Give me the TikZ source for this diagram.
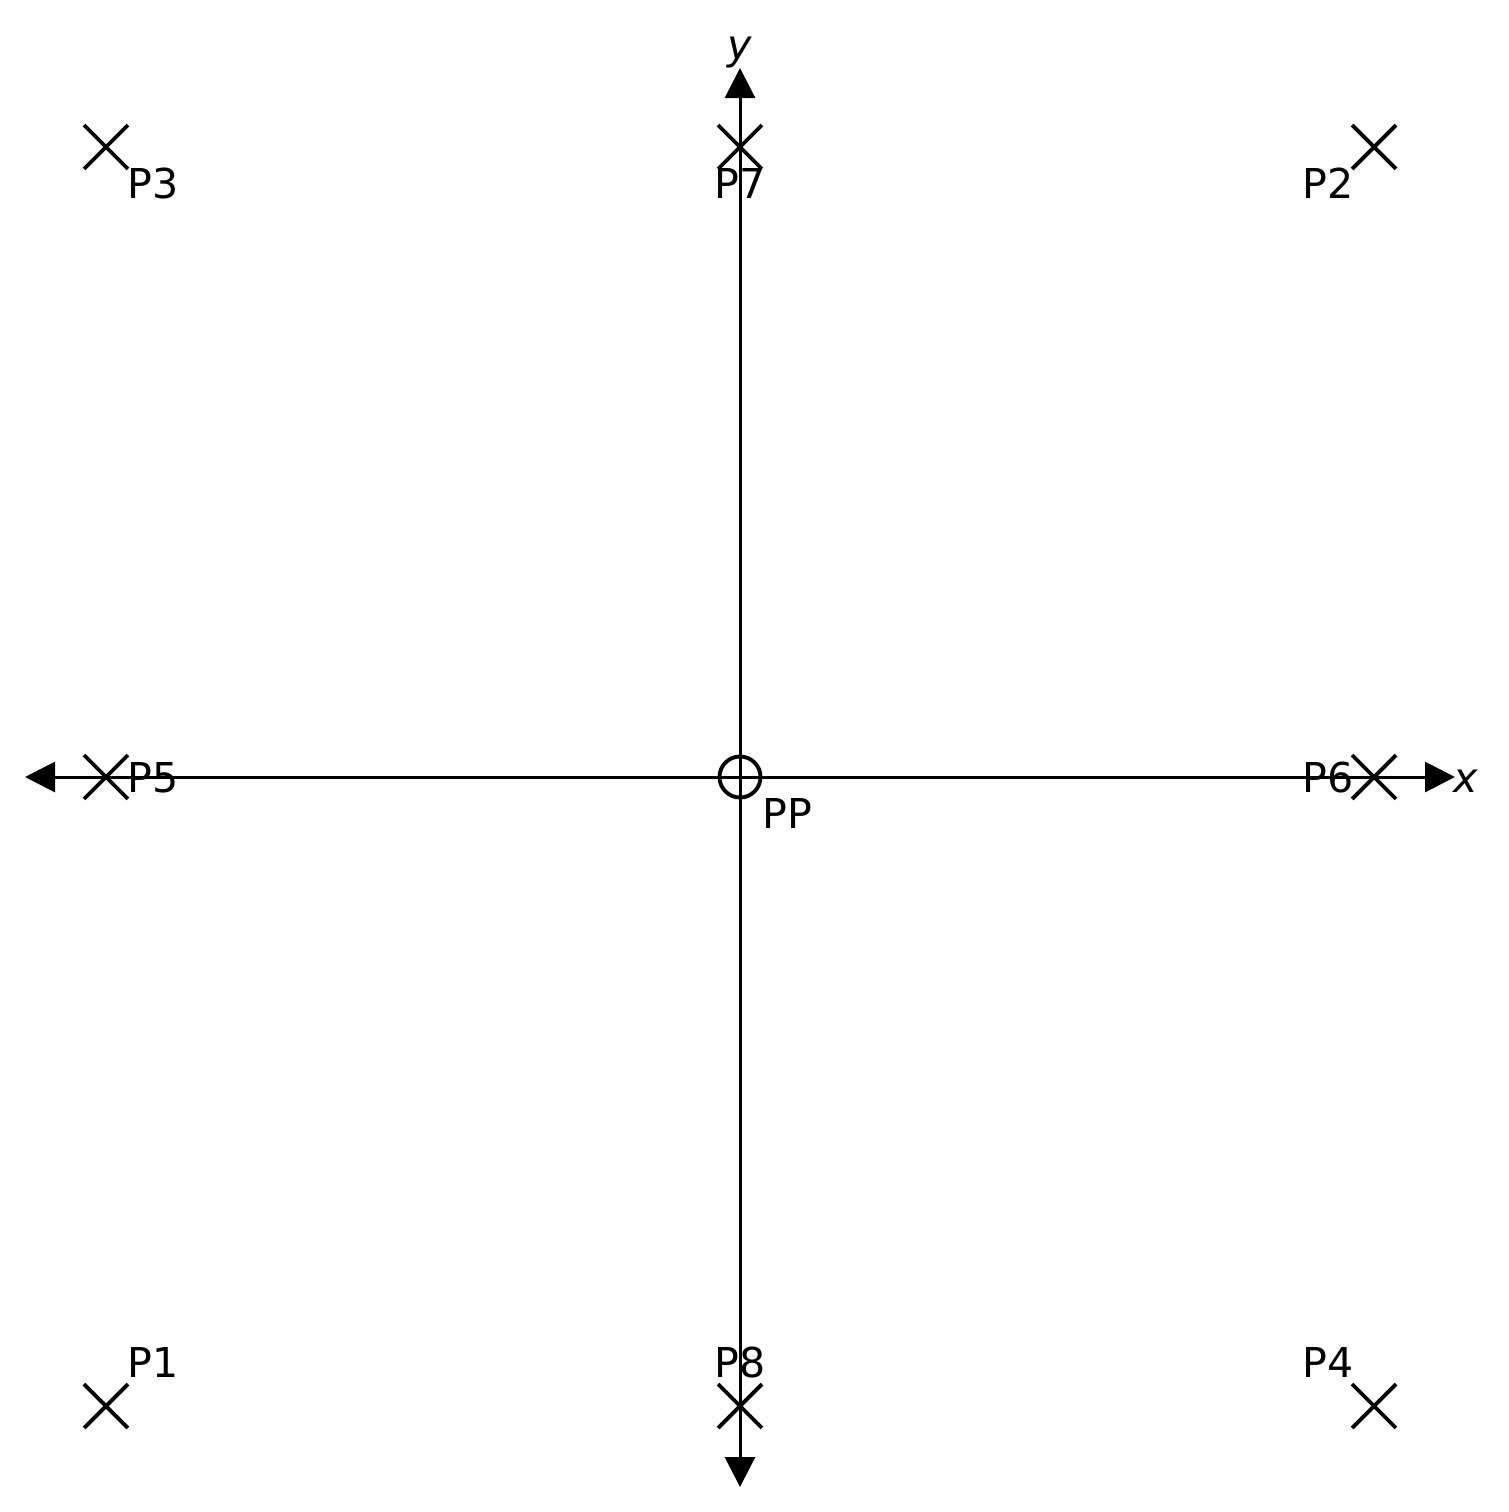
\documentclass[tikz,border=0pt]{standalone}
\usepackage{fontspec}
\setmainfont{DejaVu Sans}[ItalicFont={DejaVu Sans Oblique}]
\usetikzlibrary{arrows.meta,shapes.misc}

\begin{document}
\begin{tikzpicture}[x=.01cm,y=-.01cm,line width=.85pt,
  >={Triangle[length=.3cm,width=.3cm]},
  font=\fontsize{11.7}{14}\selectfont,
  cross/.style={cross out,draw,line width=1.1pt,minimum size=.4cm,inner sep=0pt},
  lab/.style={anchor=base west,inner sep=0pt}]
  \useasboundingbox (0,0) rectangle (1509,1512);
  % axes
  \coordinate (xl) at (25,777);
  \coordinate (xr) at (1455,777);
  \coordinate (yt) at (740,68);
  \coordinate (yb) at (740,1487);
  \draw[<->] (xl) -- (xr);
  \draw[<->] (yb) -- (yt);
  \node[lab] (xlab) at (1452,792) {\itshape x};
  \node[lab] (ylab) at (726,60) {\itshape y};
  % principal point
  \node[circle,draw,line width=1.1pt,minimum size=.41cm,inner sep=0pt] (pp) at (740,777) {};
  \node[lab] (pplab) at (761,828) {PP};
  % points
  \foreach \n/\px/\py/\lx/\ly in {1/106/1406/126/1377,2/1374/147/1301/198,
      3/106/147/126/198,4/1374/1406/1301/1377,5/106/777/126/792,
      6/1374/777/1301/792,7/740/147/713/198,8/740/1406/713/1377} {
    \node[cross] (p\n) at (\px,\py) {};
    \node[lab] (l\n) at (\lx,\ly) {P\n};
  }
\end{tikzpicture}
\end{document}
